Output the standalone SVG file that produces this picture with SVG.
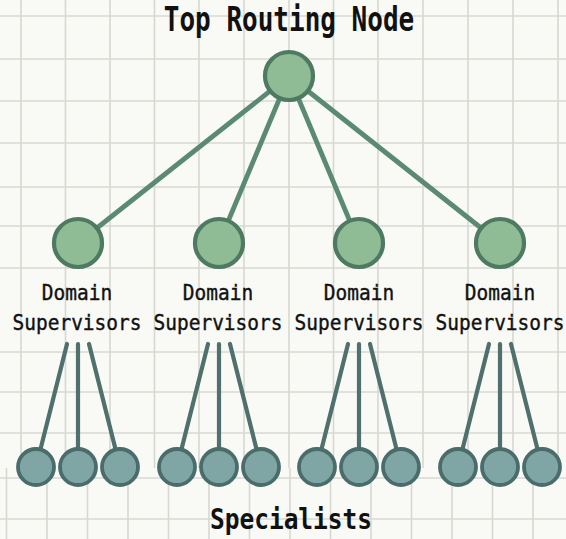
<svg xmlns="http://www.w3.org/2000/svg" width="566" height="539" viewBox="0 0 566 539">
<style>
.grid line{stroke:#d8d8d2;stroke-width:1.6}
.up{stroke:#5b8a72;stroke-width:4.8;stroke-linecap:round}
.down{stroke:#4f706c;stroke-width:4.2;stroke-linecap:round}
.sup{fill:#8fbb95;stroke:#4e7a61;stroke-width:4.2}
.spec{fill:#7fa6a4;stroke:#4a6c6a;stroke-width:3.8}
text{font-family:"DejaVu Sans Mono","Liberation Mono",monospace;fill:#111;text-anchor:middle}
.lbl{font-size:19.5px;stroke:#111;stroke-width:0.35}
.big{font-weight:bold}
</style>
<rect width="566" height="539" fill="#f9f9f5"/>
<g class="grid">
<line x1="0" y1="16" x2="566" y2="16"/>
<line x1="0" y1="59" x2="566" y2="59"/>
<line x1="0" y1="101" x2="566" y2="101"/>
<line x1="0" y1="143" x2="566" y2="143"/>
<line x1="0" y1="187" x2="566" y2="187"/>
<line x1="0" y1="226" x2="566" y2="226"/>
<line x1="0" y1="268" x2="566" y2="268"/>
<line x1="0" y1="352" x2="566" y2="352"/>
<line x1="0" y1="392" x2="566" y2="392"/>
<line x1="0" y1="433" x2="566" y2="433"/>
<line x1="0" y1="478" x2="566" y2="478"/>
<line x1="0" y1="519" x2="566" y2="519"/>
<line x1="21" y1="0" x2="21" y2="468"/>
<line x1="65.5" y1="0" x2="65.5" y2="468"/>
<line x1="110" y1="0" x2="110" y2="468"/>
<line x1="154.5" y1="0" x2="154.5" y2="468"/>
<line x1="199" y1="0" x2="199" y2="468"/>
<line x1="244" y1="0" x2="244" y2="468"/>
<line x1="289" y1="0" x2="289" y2="468"/>
<line x1="333.5" y1="0" x2="333.5" y2="468"/>
<line x1="378" y1="0" x2="378" y2="468"/>
<line x1="423" y1="0" x2="423" y2="468"/>
<line x1="468" y1="0" x2="468" y2="468"/>
<line x1="513" y1="0" x2="513" y2="468"/>
<line x1="558" y1="0" x2="558" y2="468"/>
<line x1="6.5" y1="468" x2="6.5" y2="539"/>
<line x1="47" y1="468" x2="47" y2="539"/>
<line x1="87.5" y1="468" x2="87.5" y2="539"/>
<line x1="128" y1="468" x2="128" y2="539"/>
<line x1="168.5" y1="468" x2="168.5" y2="539"/>
<line x1="209" y1="468" x2="209" y2="539"/>
<line x1="249.5" y1="468" x2="249.5" y2="539"/>
<line x1="290" y1="468" x2="290" y2="539"/>
<line x1="330.5" y1="468" x2="330.5" y2="539"/>
<line x1="371" y1="468" x2="371" y2="539"/>
<line x1="411.5" y1="468" x2="411.5" y2="539"/>
<line x1="452" y1="468" x2="452" y2="539"/>
<line x1="492.5" y1="468" x2="492.5" y2="539"/>
<line x1="533" y1="468" x2="533" y2="539"/>
</g>
<g id="connectors">
<line class="up" x1="289" y1="76" x2="78" y2="243"/>
<line class="up" x1="289" y1="76" x2="219" y2="243"/>
<line class="up" x1="289" y1="76" x2="359" y2="243"/>
<line class="up" x1="289" y1="76" x2="500" y2="243"/>
<line class="down" x1="67" y1="344" x2="36" y2="467"/>
<line class="down" x1="78" y1="344" x2="78" y2="467"/>
<line class="down" x1="89" y1="344" x2="120" y2="467"/>
<line class="down" x1="208" y1="344" x2="177" y2="467"/>
<line class="down" x1="219" y1="344" x2="219" y2="467"/>
<line class="down" x1="230" y1="344" x2="261" y2="467"/>
<line class="down" x1="348" y1="344" x2="317" y2="467"/>
<line class="down" x1="359" y1="344" x2="359" y2="467"/>
<line class="down" x1="370" y1="344" x2="401" y2="467"/>
<line class="down" x1="489" y1="344" x2="458" y2="467"/>
<line class="down" x1="500" y1="344" x2="500" y2="467"/>
<line class="down" x1="511" y1="344" x2="542" y2="467"/>
</g>
<g id="top">
<text class="big" font-size="26" transform="translate(289,31) scale(1,1.28)">Top Routing Node</text>
<circle class="sup" cx="289" cy="76" r="24"/>
</g>
<g id="sup1">
<circle class="sup" cx="78" cy="243" r="24"/>
<text class="lbl" transform="translate(77,300) scale(1,1.1)">Domain</text>
<text class="lbl" transform="translate(77,330) scale(1,1.1)">Supervisors</text>
</g>
<g id="sup2">
<circle class="sup" cx="219" cy="243" r="24"/>
<text class="lbl" transform="translate(218,300) scale(1,1.1)">Domain</text>
<text class="lbl" transform="translate(218,330) scale(1,1.1)">Supervisors</text>
</g>
<g id="sup3">
<circle class="sup" cx="359" cy="243" r="24"/>
<text class="lbl" transform="translate(359,300) scale(1,1.1)">Domain</text>
<text class="lbl" transform="translate(359,330) scale(1,1.1)">Supervisors</text>
</g>
<g id="sup4">
<circle class="sup" cx="500" cy="243" r="24"/>
<text class="lbl" transform="translate(500,300) scale(1,1.1)">Domain</text>
<text class="lbl" transform="translate(500,330) scale(1,1.1)">Supervisors</text>
</g>
<g id="spec1"><circle class="spec" cx="36" cy="467" r="18"/></g>
<g id="spec2"><circle class="spec" cx="78" cy="467" r="18"/></g>
<g id="spec3"><circle class="spec" cx="120" cy="467" r="18"/></g>
<g id="spec4"><circle class="spec" cx="177" cy="467" r="18"/></g>
<g id="spec5"><circle class="spec" cx="219" cy="467" r="18"/></g>
<g id="spec6"><circle class="spec" cx="261" cy="467" r="18"/></g>
<g id="spec7"><circle class="spec" cx="317" cy="467" r="18"/></g>
<g id="spec8"><circle class="spec" cx="359" cy="467" r="18"/></g>
<g id="spec9"><circle class="spec" cx="401" cy="467" r="18"/></g>
<g id="spec10"><circle class="spec" cx="458" cy="467" r="18"/></g>
<g id="spec11"><circle class="spec" cx="500" cy="467" r="18"/></g>
<g id="spec12"><circle class="spec" cx="542" cy="467" r="18"/></g>
<g id="specialists-label">
<text class="big" font-size="24.5" transform="translate(291,529) scale(1,1.17)">Specialists</text>
</g>
</svg>
